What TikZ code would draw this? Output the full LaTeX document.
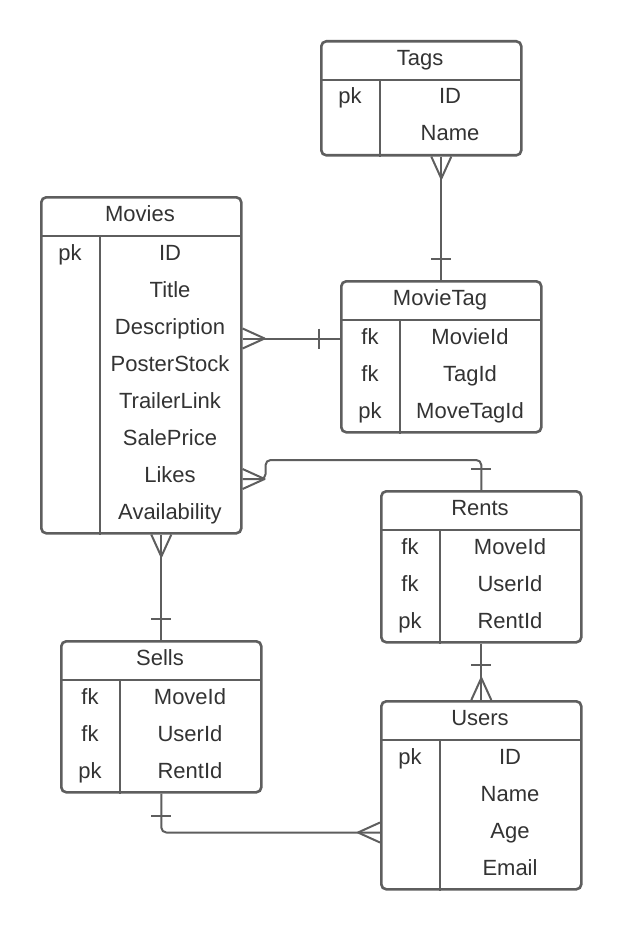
\documentclass[tikz,border=0pt]{standalone}
\usepackage{fontspec}
\setmainfont{Liberation Sans}
\usetikzlibrary{calc}
\definecolor{linegray}{HTML}{5E5E5E}
\definecolor{textgray}{HTML}{333333}
\begin{document}
\begin{tikzpicture}[x=1pt,y=-1pt,
    table/.style={draw=linegray,line width=2.6pt,rounded corners=5pt,inner sep=0pt,minimum width=200pt,anchor=north west},
    tableline/.style={draw=linegray,line width=2.6pt},
    cell/.style={text=textgray,font=\fontsize{22}{26}\selectfont,inner sep=0pt,minimum height=37pt,text height=16pt,text depth=5pt},
    title/.style={cell,minimum width=200pt,minimum height=40pt},
    key/.style={cell,minimum width=60pt},
    field/.style={cell,minimum width=140pt},
    link/.style={draw=linegray,line width=2pt,line join=round}]
    % background and size
    \fill[white] (0,0) rectangle (620,928);
    % Tags
    \node[table,minimum height=114pt] (tags) at (320,40) {};
    \draw[tableline] (tags.north west) ++(0,40) -- ++(200,0);
    \draw[tableline] ($(tags.north west)+(60,40)$) -- ($(tags.south west)+(60,0)$);
    \node[title] (tagst) at (420,60) {Tags};
    \foreach \k/\f [count=\i] in {pk/ID,/Name} {
        \node[key] (tagsk\i) at (350,{80+37*\i-18.5}) {\k};
        \node[field] (tagsf\i) at (450,{80+37*\i-18.5}) {\f};
    }
    % Movies
    \node[table,minimum height=336pt] (movies) at (40,196) {};
    \draw[tableline] (movies.north west) ++(0,40) -- ++(200,0);
    \draw[tableline] ($(movies.north west)+(60,40)$) -- ($(movies.south west)+(60,0)$);
    \node[title] (moviest) at (140,216) {Movies};
    \foreach \k/\f [count=\i] in {pk/ID,/Title,/Description,/PosterStock,/TrailerLink,/SalePrice,/Likes,/Availability} {
        \node[key] (moviesk\i) at (70,{236+37*\i-18.5}) {\k};
        \node[field] (moviesf\i) at (170,{236+37*\i-18.5}) {\f};
    }
    % MovieTag
    \node[table,minimum height=151pt] (movietag) at (340,280) {};
    \draw[tableline] (movietag.north west) ++(0,40) -- ++(200,0);
    \draw[tableline] ($(movietag.north west)+(60,40)$) -- ($(movietag.south west)+(60,0)$);
    \node[title] (movietagt) at (440,300) {MovieTag};
    \foreach \k/\f [count=\i] in {fk/MovieId,fk/TagId,pk/MoveTagId} {
        \node[key] (movietagk\i) at (370,{320+37*\i-18.5}) {\k};
        \node[field] (movietagf\i) at (470,{320+37*\i-18.5}) {\f};
    }
    % Rents
    \node[table,minimum height=151pt] (rents) at (380,490) {};
    \draw[tableline] (rents.north west) ++(0,40) -- ++(200,0);
    \draw[tableline] ($(rents.north west)+(60,40)$) -- ($(rents.south west)+(60,0)$);
    \node[title] (rentst) at (480,510) {Rents};
    \foreach \k/\f [count=\i] in {fk/MoveId,fk/UserId,pk/RentId} {
        \node[key] (rentsk\i) at (410,{530+37*\i-18.5}) {\k};
        \node[field] (rentsf\i) at (510,{530+37*\i-18.5}) {\f};
    }
    % Sells
    \node[table,minimum height=151pt] (sells) at (60,640) {};
    \draw[tableline] (sells.north west) ++(0,40) -- ++(200,0);
    \draw[tableline] ($(sells.north west)+(60,40)$) -- ($(sells.south west)+(60,0)$);
    \node[title] (sellst) at (160,660) {Sells};
    \foreach \k/\f [count=\i] in {fk/MoveId,fk/UserId,pk/RentId} {
        \node[key] (sellsk\i) at (90,{680+37*\i-18.5}) {\k};
        \node[field] (sellsf\i) at (190,{680+37*\i-18.5}) {\f};
    }
    % Users
    \node[table,minimum height=188pt] (users) at (380,700) {};
    \draw[tableline] (users.north west) ++(0,40) -- ++(200,0);
    \draw[tableline] ($(users.north west)+(60,40)$) -- ($(users.south west)+(60,0)$);
    \node[title] (userst) at (480,720) {Users};
    \foreach \k/\f [count=\i] in {pk/ID,/Name,/Age,/Email} {
        \node[key] (usersk\i) at (410,{740+37*\i-18.5}) {\k};
        \node[field] (usersf\i) at (510,{740+37*\i-18.5}) {\f};
    }
    % Tags - MovieTag
    \draw[link] (movietag.north) -- (movietag.north |- tags.south);
    \draw[link] (movietag.north |- tags.south) ++(-10,0) -- ++(10,22) -- ++(10,-22);
    \draw[link] (movietag.north) ++(-10,-21) -- ++(20,0);
    % Movies - MovieTag
    \draw[link] (movies.east |- movietagf1) -- (movietag.west |- movietagf1);
    \draw[link] (movies.east |- movietagf1) ++(0,-10) -- ++(22,10) -- ++(-22,10);
    \draw[link] (movietag.west |- movietagf1) ++(-21,-10) -- ++(0,20);
    % Movies - Rents
    \coordinate (likesend) at ($(movies.east |- moviesf7)+(0,2.5)$);
    \draw[link,rounded corners=5pt] (likesend) -- ++(23,0) -- ++(0,-19) -| (rents.north);
    \draw[link] (likesend) ++(0,-10) -- ++(22,10) -- ++(-22,10);
    \draw[link] (rents.north) ++(-10,-21) -- ++(20,0);
    % Movies - Sells
    \draw[link] (sells.north) -- (sells.north |- movies.south);
    \draw[link] (sells.north |- movies.south) ++(-10,0) -- ++(10,22) -- ++(10,-22);
    \draw[link] (sells.north) ++(-10,-21) -- ++(20,0);
    % Rents - Users
    \draw[link] (rents.south) -- (users.north);
    \draw[link] (rents.south) ++(-10,21) -- ++(20,0);
    \draw[link] (users.north) ++(-10,0) -- ++(10,-22) -- ++(10,22);
    % Sells - Users
    \draw[link,rounded corners=5pt] (sells.south) |- (users.west |- usersf3);
    \draw[link] (sells.south) ++(-10,22) -- ++(20,0);
    \draw[link] (users.west |- usersf3) ++(0,-10) -- ++(-22,10) -- ++(22,10);
\end{tikzpicture}
\end{document}
